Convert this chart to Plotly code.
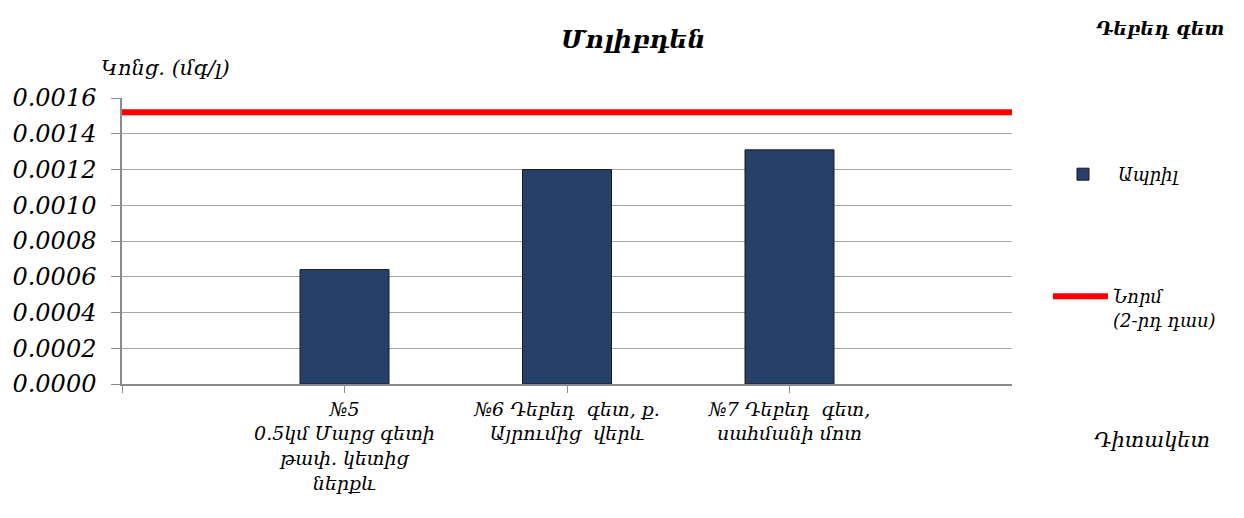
import plotly.graph_objects as go

# ---- data ----
categories = [
    "№5<br>0.5կմ Մարց գետի<br>թափ. կետից<br>ներքև",
    "№6 Դեբեդ  գետ, ք.<br>Այրումից  վերև",
    "№7 Դեբեդ  գետ,<br>սահմանի մոտ",
]
april_values = [0.00064, 0.00120, 0.00131]
norm_value = 0.00152
y_ticks = [0.0, 0.0002, 0.0004, 0.0006, 0.0008, 0.0010, 0.0012, 0.0014, 0.0016]

W, H = 1244, 518
OFF = 8  # page body margin offset
L, T = 122 - OFF, 98 - OFF
PW, PH = 890, 286
R = W - L - PW
B = H - T - PH


def px(x):
    return (x - OFF - L) / PW


def py(y):
    return (T + PH - (y - OFF)) / PH


FONT = "DejaVu Serif, Liberation Serif, serif"
positions = [1, 2, 3]

fig = go.Figure()
fig.add_trace(go.Bar(
    x=positions, y=april_values, name="Ապրիլ", width=0.4,
    marker=dict(color="#26406a", line=dict(color="#1b1b1b", width=1)),
    legend="legend",
))
fig.add_trace(go.Scatter(
    x=[0, 4], y=[norm_value, norm_value], mode="lines",
    name="Նորմ<br>(2-րդ դաս)",
    line=dict(color="#ff0000", width=6),
    legend="legend2",
))

fig.update_layout(
    width=W, height=H,
    margin=dict(l=L, r=R, t=T, b=B),
    paper_bgcolor="white", plot_bgcolor="white",
    font=dict(family=FONT, style="italic", size=17, color="black"),
    showlegend=True,
    legend=dict(x=px(1048), y=py(156), xanchor="left", yanchor="top",
                font=dict(size=18, style="italic"), itemwidth=60,
                bgcolor="rgba(0,0,0,0)"),
    legend2=dict(x=px(1048), y=py(278), xanchor="left", yanchor="top",
                 font=dict(size=18, style="italic"), itemwidth=55, valign="top",
                 bgcolor="rgba(0,0,0,0)"),
    xaxis=dict(
        range=[0, 4], tickmode="array", tickvals=[0] + positions,
        ticktext=[""] + categories, ticks="outside", ticklen=7,
        tickcolor="#8c8c8c", showgrid=False, showline=True,
        linecolor="#8c8c8c", linewidth=1.5, zeroline=False,
        tickfont=dict(size=19, style="italic"), automargin=False,
    ),
    yaxis=dict(
        range=[0, 0.0016], tickmode="array", tickvals=y_ticks,
        tickformat=".4f", ticks="outside", ticklen=9, tickcolor="#8c8c8c",
        showgrid=True, gridcolor="#a6a6a6", gridwidth=1,
        showline=True, linecolor="#8c8c8c", linewidth=1.5, zeroline=False,
        tickfont=dict(size=24, style="italic"), ticklabelstandoff=10,
        automargin=False,
    ),
    annotations=[
        dict(text="<b>Մոլիբդեն</b>", x=px(633), y=py(39), xref="paper", yref="paper",
             xanchor="center", yanchor="middle",
             showarrow=False, font=dict(size=25, style="italic")),
        dict(text="<b>Դեբեդ գետ</b>", x=px(1160), y=py(28), xref="paper", yref="paper",
             xanchor="center", yanchor="middle",
             showarrow=False, font=dict(size=19, style="italic")),
        dict(text="Կոնց. (մգ/լ)", x=px(165), y=py(68), xref="paper", yref="paper",
             xanchor="center", yanchor="middle",
             showarrow=False, font=dict(size=21, style="italic")),
        dict(text="Դիտակետ", x=px(1152), y=py(440), xref="paper", yref="paper",
             xanchor="center", yanchor="middle",
             showarrow=False, font=dict(size=21, style="italic")),
    ],
)

fig.write_html("out.html")
